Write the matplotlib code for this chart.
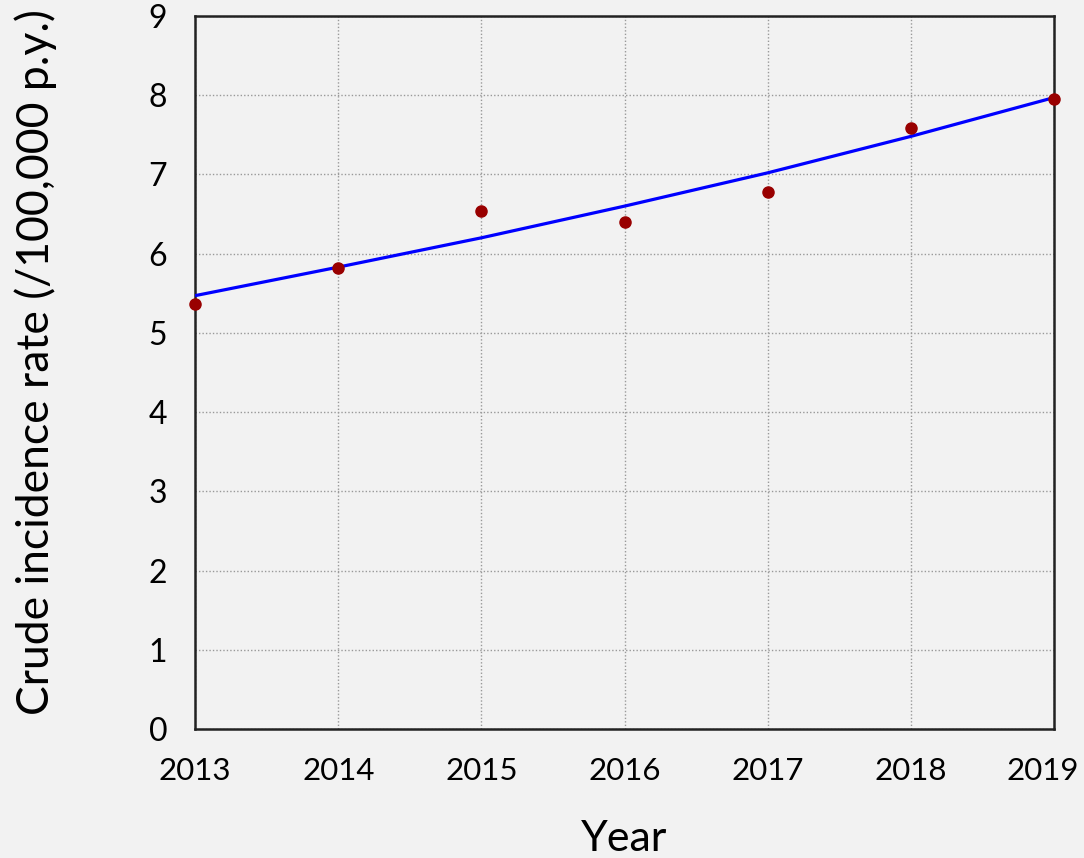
import matplotlib
matplotlib.use("Agg")
import matplotlib.pyplot as plt
import matplotlib.transforms as mtransforms

years = [2013, 2014, 2015, 2016, 2017, 2018, 2019]
rates = [5.36, 5.82, 6.54, 6.40, 6.78, 7.58, 7.95]
trend = [5.47, 5.83, 6.20, 6.60, 7.02, 7.48, 7.97]
yticks = [0, 1, 2, 3, 4, 5, 6, 7, 8, 9]

plt.rcParams['font.family'] = ['Lato', 'DejaVu Sans']

fig = plt.figure(figsize=(10.84, 8.58), dpi=100, facecolor='#f2f2f2')
ax = fig.add_axes([0.18, 0.1503, 0.7923, 0.8311])
ax.set_facecolor('#f2f2f2')

ax.plot(years, trend, color='#0000ff', lw=2.3, zorder=3, solid_capstyle='butt')
ax.plot(years, rates, 'o', color='#990000', markersize=8, zorder=4, clip_on=False)

ax.set_xlim(2013, 2019)
ax.set_ylim(0, 9)
ax.set_xticks(years)
ax.set_yticks(yticks)
ax.grid(True, color='#999999', linestyle=(0, (1, 1.5)), linewidth=1.0)
ax.tick_params(length=0, labelsize=23)
ax.tick_params(axis='x', pad=20, labelsize=22.5)
ax.tick_params(axis='y', pad=20)
for s in ax.spines.values():
    s.set_linewidth(1.8)
    s.set_color('#222222')

fig.canvas.draw()
last = ax.get_xticklabels()[-1]
last.set_transform(last.get_transform() + mtransforms.ScaledTranslation(-11/100, 0, fig.dpi_scale_trans))

ax.set_xlabel('Year', fontsize=31, labelpad=25)
ax.set_ylabel('Crude incidence rate (/100,000 p.y.)', fontsize=32, labelpad=66)
ax.yaxis.label.set_y(0.515)

fig.savefig('out.png', dpi=100, facecolor='#f2f2f2')
